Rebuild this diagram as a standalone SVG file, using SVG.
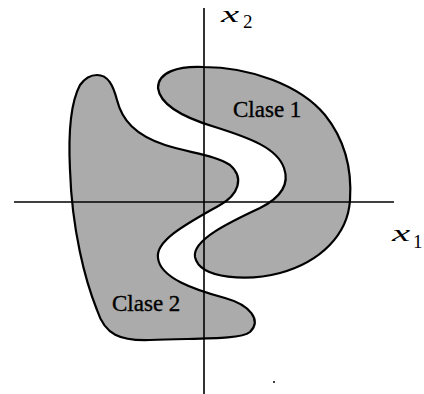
<svg xmlns="http://www.w3.org/2000/svg" width="424" height="394" viewBox="0 0 424 394">
<style>
.region{fill:#ababab;stroke:#000;stroke-width:2.2;stroke-linejoin:round}
.axis{stroke:#000;stroke-width:1.6;fill:none}
.lbl{font-family:"Liberation Serif",serif;font-size:23px;fill:#000;stroke:#000;stroke-width:0.35}
.var{font-family:"Liberation Serif",serif;font-style:italic;font-size:24px;fill:#000}
.sub{font-family:"Liberation Serif",serif;font-size:19px;fill:#000}
</style>
<rect width="424" height="394" fill="#fff"/>
<g id="clase1">
<path class="region" d="M158,88 C158,72 178,66 203,67 C250,67 300,85 325,115 C345,140 352,170 350,200 C348,235 320,262 280,273 C250,281 200,280 195,257 C192,240 230,222 260,208 C280,198 290,185 284,168 C277,148 250,138 215,127 C185,118 160,105 158,88 Z"/>
<text class="lbl" x="233" y="117">Clase 1</text>
</g>
<g id="clase2">
<path class="region" d="M97,75 C108,75 113,85 117,100 C122,120 135,135 165,145 C190,153 215,155 230,165 C245,178 238,195 220,205 C190,222 155,240 158,258 C160,278 195,290 225,298 C250,305 262,320 250,332 C240,340 200,338 150,340 C120,341 105,335 97,310 C85,280 72,230 70,170 C68,130 72,100 80,85 C85,78 90,75 97,75 Z"/>
<text class="lbl" x="112" y="311">Clase 2</text>
</g>
<g id="axes">
<line class="axis" x1="204" y1="8" x2="204" y2="394"/>
<line class="axis" x1="14" y1="202" x2="394" y2="202"/>
</g>
<g id="x2label">
<text class="var" transform="translate(221,22) scale(1.7,1)" x="0" y="0">x</text>
<text class="sub" x="243" y="28">2</text>
</g>
<g id="x1label">
<text class="var" transform="translate(392,241) scale(1.7,1)" x="0" y="0">x</text>
<text class="sub" x="413" y="248">1</text>
</g>
<circle cx="274" cy="382" r="1" fill="#000"/>
</svg>
